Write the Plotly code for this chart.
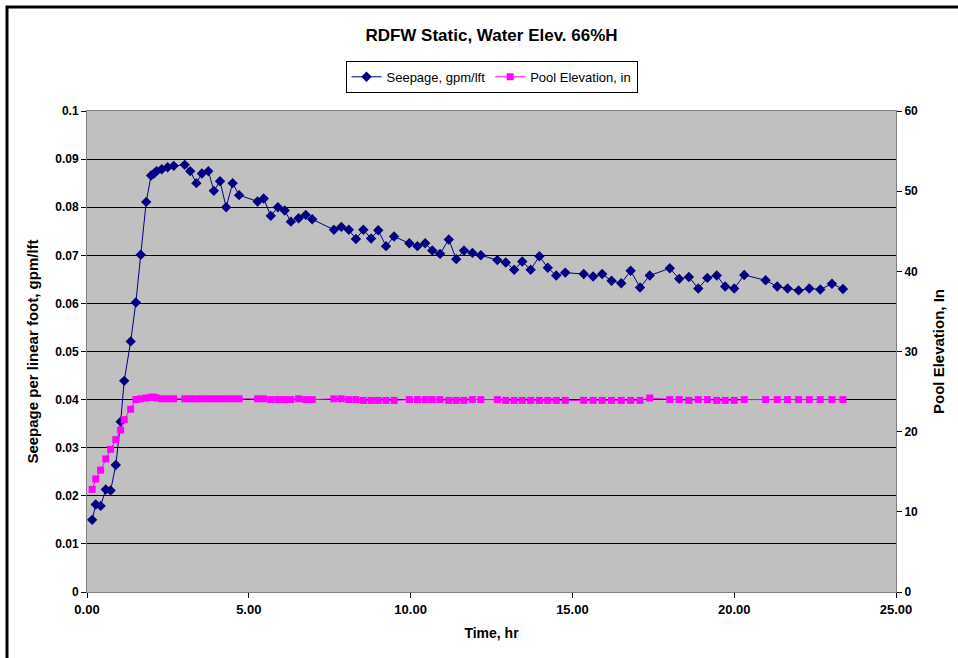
import plotly.graph_objects as go

# time stamps, hr
time_hr = [0.16, 0.27, 0.42, 0.58, 0.73, 0.89, 1.04, 1.15, 1.35, 1.51,
           1.66, 1.83, 1.98, 2.07, 2.15, 2.31, 2.49, 2.68, 3.02, 3.19,
           3.38, 3.55, 3.75, 3.92, 4.11, 4.30, 4.50, 4.70, 5.27, 5.46,
           5.68, 5.90, 6.11, 6.30, 6.54, 6.76, 6.96, 7.63, 7.86, 8.09,
           8.31, 8.54, 8.78, 9.00, 9.24, 9.49, 9.96, 10.21, 10.45, 10.67,
           10.91, 11.18, 11.41, 11.65, 11.91, 12.17, 12.68, 12.94, 13.20, 13.45,
           13.71, 13.98, 14.24, 14.50, 14.78, 15.35, 15.64, 15.92, 16.21, 16.51,
           16.80, 17.09, 17.39, 18.01, 18.30, 18.60, 18.89, 19.17, 19.46, 19.72,
           20.00, 20.31, 20.97, 21.33, 21.65, 21.99, 22.32, 22.66, 23.02, 23.36]

# seepage, gpm/lft
seepage = [0.0150, 0.0182, 0.0179, 0.0213, 0.0211, 0.0264, 0.0354, 0.0439, 0.0521, 0.0602,
           0.0701, 0.0811, 0.0866, 0.0870, 0.0875, 0.0879, 0.0883, 0.0886, 0.0888, 0.0875,
           0.0850, 0.0870, 0.0875, 0.0834, 0.0854, 0.0800, 0.0850, 0.0825, 0.0812, 0.0818,
           0.0782, 0.0800, 0.0793, 0.0770, 0.0777, 0.0784, 0.0775, 0.0753, 0.0759, 0.0753,
           0.0734, 0.0753, 0.0735, 0.0752, 0.0719, 0.0739, 0.0725, 0.0719, 0.0725, 0.0710,
           0.0703, 0.0733, 0.0692, 0.0710, 0.0705, 0.0700, 0.0690, 0.0685, 0.0670, 0.0687,
           0.0670, 0.0698, 0.0674, 0.0658, 0.0664, 0.0661, 0.0656, 0.0661, 0.0647, 0.0642,
           0.0668, 0.0633, 0.0658, 0.0673, 0.0651, 0.0655, 0.0631, 0.0653, 0.0658, 0.0635,
           0.0631, 0.0659, 0.0648, 0.0635, 0.0631, 0.0627, 0.0631, 0.0629, 0.0641, 0.0630]

# pool elevation, in
pool_elev = [12.8, 14.1, 15.2, 16.6, 17.8, 19.0, 20.2, 21.5, 22.8, 24.0,
             24.1, 24.2, 24.3, 24.3, 24.2, 24.1, 24.1, 24.1, 24.1, 24.1,
             24.1, 24.1, 24.1, 24.1, 24.1, 24.1, 24.1, 24.1, 24.1, 24.1,
             24.0, 24.0, 24.0, 24.0, 24.1, 24.0, 24.0, 24.1, 24.1, 24.0,
             24.0, 23.9, 23.9, 23.9, 23.9, 23.9, 24.0, 24.0, 24.0, 24.0,
             24.0, 23.9, 23.9, 23.9, 24.0, 24.0, 24.0, 23.9, 23.9, 23.9,
             23.9, 23.9, 23.9, 23.9, 23.9, 23.9, 23.9, 23.9, 23.9, 23.9,
             23.9, 23.9, 24.2, 24.0, 24.0, 23.9, 24.0, 24.0, 23.9, 23.9,
             23.9, 24.0, 24.0, 24.0, 24.0, 24.0, 24.0, 24.0, 24.0, 24.0]

left_ticks = [0, 0.01, 0.02, 0.03, 0.04, 0.05, 0.06, 0.07, 0.08, 0.09, 0.1]
left_labels = ["0", "0.01", "0.02", "0.03", "0.04", "0.05", "0.06", "0.07", "0.08", "0.09", "0.1"]

FONT = "Liberation Sans, Arial, sans-serif"

fig = go.Figure()

fig.add_trace(go.Scatter(
    x=time_hr, y=seepage, name="Seepage, gpm/lft",
    mode="lines+markers",
    line=dict(color="#000080", width=1),
    marker=dict(symbol="diamond", size=8, color="#000080"),
))
fig.add_trace(go.Scatter(
    x=time_hr, y=pool_elev, name="Pool Elevation, in", yaxis="y2",
    mode="lines+markers",
    line=dict(color="#FF00FF", width=1),
    marker=dict(symbol="square", size=7, color="#FF00FF"),
))

tick_font = dict(family=FONT, size=12, color="black", weight="bold")
title_font = dict(family=FONT, size=14, color="black", weight="bold")

fig.update_layout(
    width=958, height=658,
    margin=dict(l=87, r=62, t=111, b=66),
    paper_bgcolor="white",
    plot_bgcolor="#C0C0C0",
    font=dict(family=FONT, color="black"),
    title=dict(text="<b>RDFW Static, Water Elev. 66%H</b>", x=0.5, xanchor="center",
               xref="paper", y=1 - 35 / 658, yanchor="middle",
               font=dict(family=FONT, size=17, color="black")),
    showlegend=True,
    legend=dict(orientation="h", x=0.5, xanchor="center", y=1.071, yanchor="middle",
                bgcolor="white", bordercolor="black", borderwidth=1,
                font=dict(family=FONT, size=13, color="black"),
                itemwidth=30, tracegroupgap=0),
    xaxis=dict(range=[0, 25], tickvals=[0, 5, 10, 15, 20, 25], tickformat=".2f",
               showgrid=False, zeroline=False, showline=True, linecolor="#808080",
               linewidth=1, mirror=True, ticks="outside", ticklen=5, tickcolor="black",
               tickfont=dict(family=FONT, size=13, color="black", weight="bold"),
               title=dict(text="Time, hr", font=title_font, standoff=12)),
    yaxis=dict(range=[0, 0.1], tickvals=left_ticks, ticktext=left_labels,
               showgrid=True, gridcolor="black", gridwidth=1, zeroline=False,
               showline=True, linecolor="#808080", linewidth=1,
               ticks="outside", ticklen=5, tickcolor="black",
               tickfont=tick_font,
               title=dict(text="Seepage per linear foot, gpm/lft",
                          font=dict(family=FONT, size=15, color="black", weight="bold"),
                          standoff=12)),
    yaxis2=dict(range=[0, 60], tickvals=[0, 10, 20, 30, 40, 50, 60], overlaying="y",
                side="right", showgrid=False, zeroline=False,
                showline=True, linecolor="#808080", linewidth=1,
                ticks="outside", ticklen=5, tickcolor="black",
                tickfont=tick_font,
                title=dict(text="Pool Elevation, In",
                           font=dict(family=FONT, size=15, color="black", weight="bold"),
                           standoff=16)),
)

# outer chart frame (left and top edges visible in the picture)
fig.add_shape(type="rect", xref="paper", yref="paper",
              x0=(7 - 87) / 809, x1=1.3, y0=-0.3, y1=(592 - 7) / 481,
              line=dict(color="black", width=3), layer="above")

# drop the browser's default body margin so the figure sits at the page origin
fig.write_html("out.html", config={"displayModeBar": False},
               post_script="document.body.style.margin='0';")
